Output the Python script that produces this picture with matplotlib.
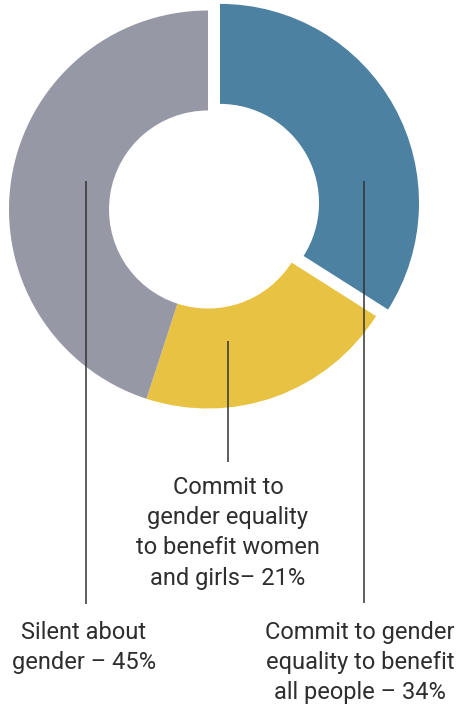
import matplotlib
matplotlib.use("Agg")
import matplotlib.pyplot as plt

# Share of statements by how they treat gender
categories = [
    "Commit to gender\nequality to benefit\nall people \u2013 34%",
    "Commit to\ngender equality\nto benefit women\nand girls\u2013 21%",
    "Silent about\ngender \u2013 45%",
]
shares = [34, 21, 45]
colors = ["#4d81a1", "#e8c242", "#9798a5"]
explode = [13.7, 0, 0]  # pie offsets wedges in data units

W, H = 460, 706
fig = plt.figure(figsize=(W / 100, H / 100), dpi=100)
ax = fig.add_axes([0, 0, 1, 1])

cx, cy, r = 208, H - 209.5, 199
ax.pie(shares, colors=colors, explode=explode, startangle=90, counterclock=False,
       center=(cx, cy), radius=r, wedgeprops=dict(width=100, linewidth=0))

ax.set_xlim(0, W)
ax.set_ylim(0, H)
ax.set_aspect("auto")
ax.axis("off")

# leader lines (x, top, bottom) in pixels from the top edge
leaders = [(364, 181, 603), (228, 341, 462), (86, 181, 604)]
for x, y0, y1 in leaders:
    ax.plot([x, x], [H - y0, H - y1], color="#333333", lw=1.1, solid_capstyle="butt")

# label anchors (center x, top y)
label_pos = [(360, 621), (228, 476), (84, 621)]
for text, (x, y) in zip(categories, label_pos):
    ax.text(x, H - y, text, ha="center", va="top", fontsize=17, family="Roboto",
            color="#2e2e2e", linespacing=1.4, multialignment="center")

fig.savefig("out.png", dpi=100)
